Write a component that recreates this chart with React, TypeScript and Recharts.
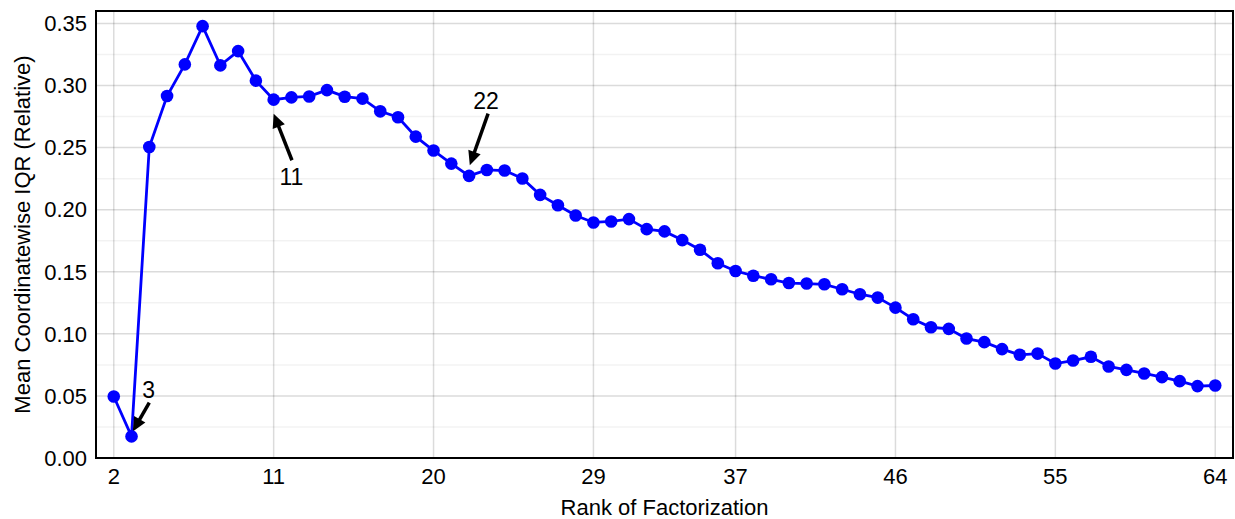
import React from 'react';
import {
  LineChart,
  Line,
  XAxis,
  YAxis,
  CartesianGrid,
  ReferenceArea,
  ReferenceLine,
  ReferenceDot,
  Label,
} from 'recharts';

// rank of the factorization (x) and mean IQR (y)
const ranks = [
  2, 3, 4, 5, 6, 7, 8, 9, 10, 11, 12, 13, 14, 15, 16, 17, 18, 19, 20, 21, 22,
  23, 24, 25, 26, 27, 28, 29, 30, 31, 32, 33, 34, 35, 36, 37, 38, 39, 40, 41,
  42, 43, 44, 45, 46, 47, 48, 49, 50, 51, 52, 53, 54, 55, 56, 57, 58, 59, 60,
  61, 62, 63, 64,
];
const iqrValues = [
  0.0495, 0.0174, 0.2505, 0.2915, 0.317, 0.3478, 0.3162, 0.3277, 0.3039,
  0.2886, 0.2904, 0.2912, 0.2963, 0.291, 0.2894, 0.2792, 0.2744, 0.2588,
  0.2476, 0.2371, 0.2272, 0.232, 0.2315, 0.2251, 0.2119, 0.2036, 0.1953,
  0.1897, 0.1905, 0.1924, 0.1843, 0.1825, 0.1755, 0.1677, 0.1568, 0.1506,
  0.1468, 0.1439, 0.1409, 0.1405, 0.1399, 0.1359, 0.1319, 0.1292, 0.1211,
  0.1118, 0.1053, 0.104, 0.0962, 0.0933, 0.0877, 0.0831, 0.0841, 0.0761,
  0.0785, 0.0815, 0.0737, 0.071, 0.0681, 0.0651, 0.0619, 0.0579, 0.0584,
];

const xTicks = [2, 11, 20, 29, 37, 46, 55, 64];
const yTicks = [0, 0.05, 0.1, 0.15, 0.2, 0.25, 0.3, 0.35];
const yMinorTicks = [0.025, 0.075, 0.125, 0.175, 0.225, 0.275, 0.325];

// annotated ranks
const noteTexts = ['3', '11', '22'];
const noteTextAt = [
  { x: 3.97, y: 0.0549 },
  { x: 12.0, y: 0.2264 },
  { x: 22.96, y: 0.2874 },
];
const noteTail = [
  { x: 4.0, y: 0.0446 },
  { x: 12.03, y: 0.2398 },
  { x: 23.07, y: 0.2773 },
];
const noteHead = [
  { x: 3.07, y: 0.0214 },
  { x: 11.0, y: 0.2773 },
  { x: 22.04, y: 0.2358 },
];

const data = ranks.map((rank, i) => ({ rank, iqr: iqrValues[i] }));

const FONT = '"Liberation Sans", Arial, Helvetica, sans-serif';

function Arrow(props: any) {
  const { x1, y1, x2, y2 } = props;
  const dx = x2 - x1;
  const dy = y2 - y1;
  const len = Math.hypot(dx, dy) || 1;
  const ux = dx / len;
  const uy = dy / len;
  const headLen = 14;
  const headW = 6.5;
  const bx = x2 - ux * headLen;
  const by = y2 - uy * headLen;
  const pts = `${x2},${y2} ${bx - uy * headW},${by + ux * headW} ${bx + uy * headW},${by - ux * headW}`;
  return (
    <g>
      <line x1={x1} y1={y1} x2={bx + ux} y2={by + uy} stroke="#000" strokeWidth={3.5} />
      <polygon points={pts} fill="#000" />
    </g>
  );
}

function NoteText(text: string) {
  return (props: any) => (
    <text
      x={props.cx}
      y={props.cy}
      dy="0.36em"
      textAnchor="middle"
      fontSize={23}
      fill="#000"
      fontFamily={FONT}
    >
      {text}
    </text>
  );
}

function YLabel(props: any) {
  const { viewBox } = props;
  const cx = 22;
  const cy = viewBox.y + viewBox.height / 2;
  return (
    <text
      x={cx}
      y={cy}
      dy="0.36em"
      textAnchor="middle"
      fontSize={22}
      fill="#000"
      fontFamily={FONT}
      transform={`rotate(-90, ${cx}, ${cy})`}
    >
      Mean Coordinatewise IQR (Relative)
    </text>
  );
}

export default function App() {
  return (
    <div style={{ position: 'absolute', left: 0, top: 0, fontFamily: FONT, background: '#fff' }}>
      <LineChart
        width={1235}
        height={519}
        data={data}
        margin={{ top: 11, right: 2, bottom: 0, left: 0 }}
      >
        <CartesianGrid
          horizontalValues={yMinorTicks}
          vertical={false}
          stroke="#000"
          strokeOpacity={0.05}
          strokeWidth={1.5}
        />
        <CartesianGrid
          horizontalValues={yTicks}
          verticalValues={xTicks}
          stroke="#000"
          strokeOpacity={0.14}
          strokeWidth={1.5}
        />
        <XAxis
          dataKey="rank"
          type="number"
          domain={[1, 65]}
          ticks={xTicks}
          interval={0}
          height={61}
          axisLine={false}
          tickLine={false}
          tickSize={0}
          tickMargin={10}
          tick={{ fill: '#000', fontSize: 22 }}
        >
          <Label value="Rank of Factorization" position="insideBottom" offset={4} fill="#000" fontSize={22} />
        </XAxis>
        <YAxis
          type="number"
          domain={[0, 0.36]}
          ticks={yTicks}
          interval={0}
          width={96}
          axisLine={false}
          tickLine={false}
          tickSize={0}
          tickMargin={9}
          tick={{ fill: '#000', fontSize: 22 }}
          tickFormatter={(v: number) => v.toFixed(2)}
        >
          <Label content={YLabel} />
        </YAxis>
        <ReferenceArea
          x1={1}
          x2={65}
          y1={0}
          y2={0.36}
          fill="none"
          stroke="#000"
          strokeWidth={2}
          ifOverflow="visible"
        />
        <Line
          type="linear"
          dataKey="iqr"
          stroke="#0000ff"
          strokeWidth={2.8}
          dot={{ r: 6.3, fill: '#0000ff', stroke: 'none' }}
          activeDot={false}
          isAnimationActive={false}
        />
        {noteTexts.map((t, i) => (
          <ReferenceLine
            key={`a${i}`}
            segment={[noteTail[i], noteHead[i]]}
            ifOverflow="visible"
            shape={Arrow}
          />
        ))}
        {noteTexts.map((t, i) => (
          <ReferenceDot
            key={`t${i}`}
            x={noteTextAt[i].x}
            y={noteTextAt[i].y}
            r={0}
            ifOverflow="visible"
            shape={NoteText(t)}
          />
        ))}
      </LineChart>
    </div>
  );
}
